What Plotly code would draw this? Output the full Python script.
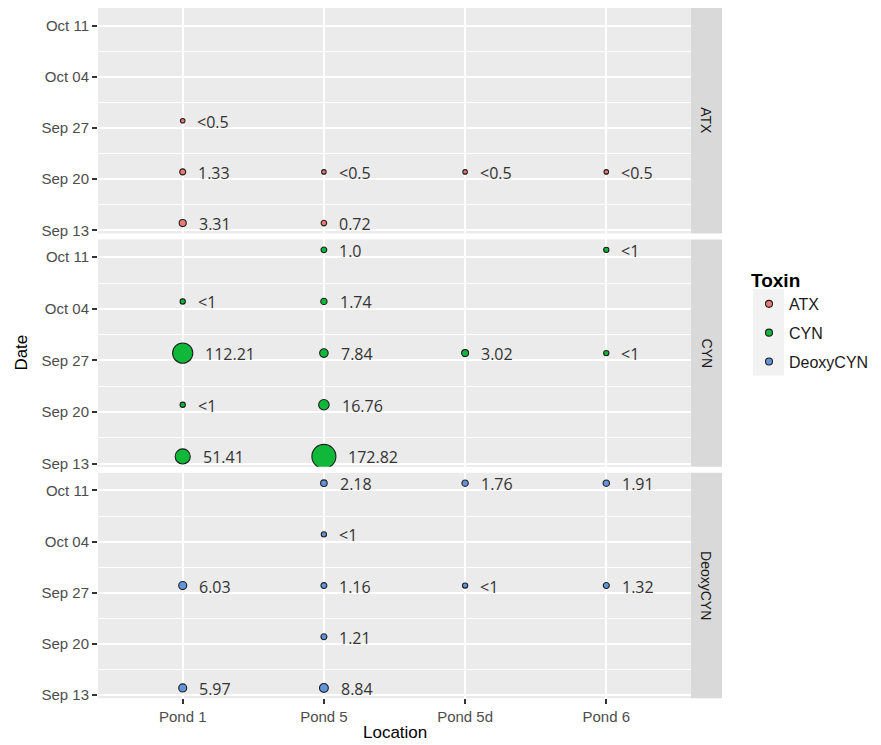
import plotly.graph_objects as go
import numpy as np

# ---------------- data ----------------
toxins = ["ATX", "CYN", "DeoxyCYN"]
locations = ["Pond 1", "Pond 5", "Pond 5d", "Pond 6"]
tick_dates = ["2021-09-13", "2021-09-20", "2021-09-27", "2021-10-04", "2021-10-11"]
tick_labels = ["Sep 13", "Sep 20", "Sep 27", "Oct 04", "Oct 11"]

# ATX
atx_loc = ["Pond 1", "Pond 1", "Pond 1", "Pond 5", "Pond 5", "Pond 5d", "Pond 6"]
atx_date = ["2021-09-28", "2021-09-21", "2021-09-14", "2021-09-21", "2021-09-14", "2021-09-21", "2021-09-21"]
atx_val = [0.25, 1.33, 3.31, 0.25, 0.72, 0.25, 0.25]
atx_lab = ["<0.5", "1.33", "3.31", "<0.5", "0.72", "<0.5", "<0.5"]

# CYN
cyn_loc = ["Pond 1", "Pond 1", "Pond 1", "Pond 1",
           "Pond 5", "Pond 5", "Pond 5", "Pond 5", "Pond 5",
           "Pond 5d", "Pond 6", "Pond 6"]
cyn_date = ["2021-10-05", "2021-09-28", "2021-09-21", "2021-09-14",
            "2021-10-12", "2021-10-05", "2021-09-28", "2021-09-21", "2021-09-14",
            "2021-09-28", "2021-10-12", "2021-09-28"]
cyn_val = [0.5, 112.21, 0.5, 51.41, 1.0, 1.74, 7.84, 16.76, 172.82, 3.02, 0.5, 0.5]
cyn_lab = ["<1", "112.21", "<1", "51.41", "1.0", "1.74", "7.84", "16.76", "172.82", "3.02", "<1", "<1"]

# DeoxyCYN
dcyn_loc = ["Pond 1", "Pond 1",
            "Pond 5", "Pond 5", "Pond 5", "Pond 5", "Pond 5",
            "Pond 5d", "Pond 5d", "Pond 6", "Pond 6"]
dcyn_date = ["2021-09-28", "2021-09-14",
             "2021-10-12", "2021-10-05", "2021-09-28", "2021-09-21", "2021-09-14",
             "2021-10-12", "2021-09-28", "2021-10-12", "2021-09-28"]
dcyn_val = [6.03, 5.97, 2.18, 0.5, 1.16, 1.21, 8.84, 1.76, 0.5, 1.91, 1.32]
dcyn_lab = ["6.03", "5.97", "2.18", "<1", "1.16", "1.21", "8.84", "1.76", "<1", "1.91", "1.32"]

series = {
    "ATX": (atx_loc, atx_date, atx_val, atx_lab),
    "CYN": (cyn_loc, cyn_date, cyn_val, cyn_lab),
    "DeoxyCYN": (dcyn_loc, dcyn_date, dcyn_val, dcyn_lab),
}
colors = {"ATX": "#EE7A72", "CYN": "#10B83A", "DeoxyCYN": "#6294DC"}

# ---------------- geometry ----------------
W, H = 881, 745
px_x = lambda p: p / W
px_y = lambda p: 1 - p / H
x_dom = [px_x(98), px_x(691)]
panels_px = [(8, 235), (241, 470), (476, 703)]

all_vals = np.array(atx_val + cyn_val + dcyn_val)
vmin, vmax = all_vals.min(), all_vals.max()


def size_of(v):
    r = (np.asarray(v) - vmin) / (vmax - vmin)
    return 4.5 + 19.5 * np.sqrt(r)


fig = go.Figure()
annotations = []
shapes = []
tick_font = dict(family="Liberation Sans", size=15, color="#4D4D4D")

for i, tox in enumerate(toxins):
    n = "" if i == 0 else str(i + 1)
    loc, dt, val, lab = series[tox]
    sizes = size_of(val)
    fig.add_trace(go.Scatter(
        x=loc, y=dt, mode="markers",
        xaxis="x" + n, yaxis="y" + n,
        marker=dict(size=sizes, color=colors[tox],
                    line=dict(color="#1f1f1f", width=1.1), opacity=1),
        showlegend=False, hoverinfo="skip",
    ))
    for l, d, s, t in zip(loc, dt, sizes, lab):
        annotations.append(dict(
            x=l, y=d, xref="x" + n, yref="y" + n, text=t, showarrow=False,
            xanchor="left", yanchor="middle", xshift=float(s) / 2 + 10.5, yshift=-1,
            font=dict(family="Open Sans", size=16, color="#333333"),
        ))
    top, bot = panels_px[i]
    dom = [px_y(bot), px_y(top)]
    show_x = (i == 2)
    fig.layout["xaxis" + n] = dict(
        domain=x_dom, anchor="y" + n, type="category",
        categoryorder="array", categoryarray=locations,
        range=[-0.6, 3.6], showgrid=True, gridcolor="white", gridwidth=2,
        zeroline=False, showline=False,
        showticklabels=show_x, ticks="outside" if show_x else "",
        ticklen=5, tickcolor="#333333", tickwidth=1.5,
        tickfont=tick_font, fixedrange=True,
    )
    fig.layout["yaxis" + n] = dict(
        domain=dom, anchor="x" + n, type="date",
        range=["2021-09-12 14:00", "2021-10-13 10:00"],
        tickvals=tick_dates, ticktext=tick_labels,
        showgrid=True, gridcolor="white", gridwidth=1.7,
        minor=dict(tick0="2021-09-16 12:00", dtick=7 * 86400000,
                   showgrid=True, gridcolor="white", gridwidth=0.8, ticks=""),
        zeroline=False, showline=False,
        ticks="outside", ticklen=5, tickcolor="#333333", tickwidth=1.5,
        tickfont=tick_font, fixedrange=True,
    )
    # facet strip
    shapes.append(dict(type="rect", xref="paper", yref="paper",
                       x0=px_x(691), x1=px_x(722), y0=dom[0], y1=dom[1],
                       fillcolor="#D9D9D9", line=dict(width=0), layer="below"))
    annotations.append(dict(
        x=px_x(706.5), y=(dom[0] + dom[1]) / 2, xref="paper", yref="paper",
        xanchor="center", yanchor="middle",
        text=tox, textangle=90, showarrow=False,
        font=dict(family="Liberation Sans", size=14, color="#1A1A1A"),
    ))

# legend entries
for tox in toxins:
    fig.add_trace(go.Scatter(
        x=[None], y=[None], mode="markers", name=tox, legendgroup=tox,
        marker=dict(size=7, color=colors[tox], line=dict(color="#1f1f1f", width=1.1)),
        showlegend=True,
    ))

# legend key background
shapes.append(dict(type="rect", xref="paper", yref="paper",
                   x0=px_x(753), x1=px_x(784), y0=px_y(378), y1=px_y(291),
                   fillcolor="#F2F2F2", line=dict(width=0), layer="below"))

# axis titles
annotations.append(dict(x=px_x(22), y=px_y(355), xref="paper", yref="paper",
                        xanchor="center", yanchor="middle",
                        text="Date", textangle=-90, showarrow=False,
                        font=dict(family="Liberation Sans", size=17, color="#000000")))
annotations.append(dict(x=px_x(394.5), y=px_y(737), xref="paper", yref="paper",
                        xanchor="center", yanchor="middle",
                        text="Location", showarrow=False,
                        font=dict(family="Liberation Sans", size=17, color="#000000")))

fig.update_layout(
    width=W, height=H,
    margin=dict(l=0, r=0, t=0, b=0),
    paper_bgcolor="white", plot_bgcolor="#EBEBEB",
    shapes=shapes, annotations=annotations,
    legend=dict(
        x=px_x(749), y=px_y(264), xanchor="left", yanchor="top",
        title=dict(text="<b>Toxin</b>", font=dict(family="Liberation Sans", size=19, color="#000000")),
        font=dict(family="Liberation Sans", size=16, color="#1A1A1A"),
        tracegroupgap=5, bgcolor="rgba(0,0,0,0)",
        itemclick=False, itemdoubleclick=False,
    ),
    showlegend=True,
)

fig.write_html("out.html")
